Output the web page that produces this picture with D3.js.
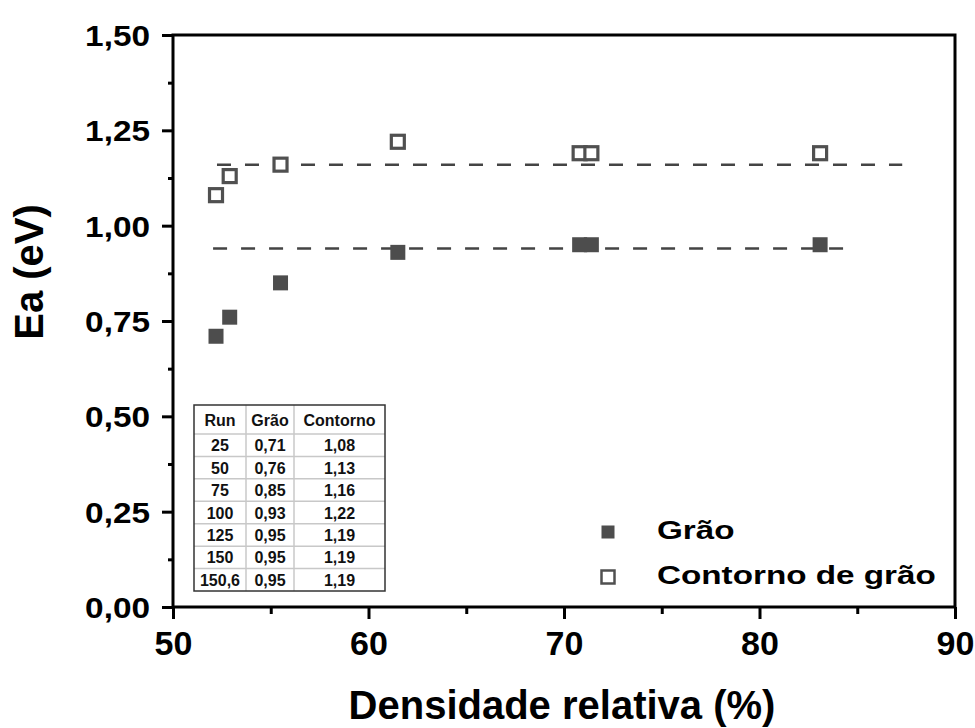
<!DOCTYPE html>
<html>
<head>
<meta charset="utf-8">
<script src="https://cdn.jsdelivr.net/npm/d3@7"></script>
<style>
  html, body { margin: 0; padding: 0; background: #fff; }
  svg { display: block; font-family: "Liberation Sans", Arial, Helvetica, sans-serif; font-weight: bold; }
</style>
</head>
<body>
<svg id="chart" width="975" height="728"></svg>
<script>
// Relative density (%) of each sample
const densidade = [52.2, 52.9, 55.5, 61.5, 70.8, 71.4, 83.1];
// Activation energy (eV): grain and grain boundary
const eaGrao = [0.71, 0.76, 0.85, 0.93, 0.95, 0.95, 0.95];
const eaContorno = [1.08, 1.13, 1.16, 1.22, 1.19, 1.19, 1.19];
// Run labels shown in the inset table
const runs = ["25", "50", "75", "100", "125", "150", "150,6"];
const tableHeader = ["Run", "Grão", "Contorno"];
// Plateau levels (dashed guides): level, start, end (density %)
const plateauLevel = [0.94, 1.16];
const plateauStart = [52.05, 52.25];
const plateauEnd = [84.8, 87.3];
// Axis ticks
const xTicks = [50, 60, 70, 80, 90];
const xMinor = [55, 65, 75, 85];
const yTicks = [0, 0.25, 0.5, 0.75, 1.0, 1.25, 1.5];
const yMinor = [0.125, 0.375, 0.625, 0.875, 1.125, 1.375];
const seriesNames = ["Grão", "Contorno de grão"];

const svg = d3.select("#chart");
const x = d3.scaleLinear().domain([50, 90]).range([173, 955]);
const y = d3.scaleLinear().domain([0, 1.5]).range([607, 35]);
const fmt = v => d3.format(".2f")(v).replace(".", ",");

const markFill = "#4d4d4d";
const markStroke = "#505050";

// Bottom axis: major and minor ticks
const gx = svg.append("g").attr("transform", `translate(0,${y(0)})`)
  .call(d3.axisBottom(x).tickValues(xTicks).tickSize(12).tickFormat(d3.format("d")));
gx.select(".domain").remove();
gx.selectAll(".tick line").attr("stroke", "#000").attr("stroke-width", 3);
gx.selectAll(".tick text").attr("y", 48).attr("dy", null)
  .attr("font-size", 34).attr("fill", "#000");
svg.append("g").attr("transform", `translate(0,${y(0)})`)
  .call(d3.axisBottom(x).tickValues(xMinor).tickSize(7).tickFormat(""))
  .call(g => g.select(".domain").remove())
  .selectAll(".tick line").attr("stroke", "#000").attr("stroke-width", 3);

// Left axis: major and minor ticks
const gy = svg.append("g").attr("transform", `translate(${x(50)},0)`)
  .call(d3.axisLeft(y).tickValues(yTicks).tickSize(11).tickFormat(fmt));
gy.select(".domain").remove();
gy.selectAll(".tick line").attr("stroke", "#000").attr("stroke-width", 3);
gy.selectAll(".tick text").attr("x", null).attr("dy", "0.36em")
  .attr("transform", "translate(-23,0) scale(1.15,1)")
  .attr("font-size", 29).attr("fill", "#000");
svg.append("g").attr("transform", `translate(${x(50)},0)`)
  .call(d3.axisLeft(y).tickValues(yMinor).tickSize(5).tickFormat(""))
  .call(g => g.select(".domain").remove())
  .selectAll(".tick line").attr("stroke", "#000").attr("stroke-width", 3);

// Frame
svg.append("rect")
  .attr("x", x(50)).attr("y", y(1.5))
  .attr("width", x(90) - x(50)).attr("height", y(0) - y(1.5))
  .attr("fill", "none").attr("stroke", "#000").attr("stroke-width", 3);

// Axis titles
svg.append("text").attr("x", 562).attr("y", 719).attr("text-anchor", "middle")
  .attr("font-size", 40).attr("fill", "#000").text("Densidade relativa (%)");
svg.append("text").attr("transform", "translate(43,272) rotate(-90)")
  .attr("text-anchor", "middle").attr("font-size", 40).attr("fill", "#000").text("Ea (eV)");

// Dashed plateau guides
svg.append("g").selectAll("line").data(plateauLevel).join("line")
  .attr("x1", (d, i) => x(plateauStart[i])).attr("x2", (d, i) => x(plateauEnd[i]))
  .attr("y1", d => y(d)).attr("y2", d => y(d))
  .attr("stroke", "#444").attr("stroke-width", 2.5).attr("stroke-dasharray", "14,14");

// Grain boundary: hollow squares
const sOpen = 13;
svg.append("g").selectAll("rect").data(eaContorno).join("rect")
  .attr("x", (d, i) => x(densidade[i]) - sOpen / 2).attr("y", d => y(d) - sOpen / 2)
  .attr("width", sOpen).attr("height", sOpen)
  .attr("fill", "#fff").attr("stroke", markStroke).attr("stroke-width", 3.2);

// Grain: filled squares
const sFill = 15;
svg.append("g").selectAll("rect").data(eaGrao).join("rect")
  .attr("x", (d, i) => x(densidade[i]) - sFill / 2).attr("y", d => y(d) - sFill / 2)
  .attr("width", sFill).attr("height", sFill).attr("fill", markFill);

// Legend
const legend = svg.append("g");
const legendY = [532, 577];
legend.selectAll("rect").data(seriesNames).join("rect")
  .attr("x", 608 - 6.5).attr("y", (d, i) => legendY[i] - 6.5)
  .attr("width", 13).attr("height", 13)
  .attr("fill", (d, i) => i === 0 ? markFill : "#fff")
  .attr("stroke", (d, i) => i === 0 ? "none" : markStroke)
  .attr("stroke-width", (d, i) => i === 0 ? 0 : 2.5);
legend.selectAll("text").data(seriesNames).join("text")
  .attr("transform", (d, i) => `translate(657,${legendY[i] + 7}) scale(1.33,1)`)
  .attr("font-size", 25).attr("fill", "#000").text(d => d);

// Inset table
const colEdges = [194, 246, 294, 385];
const tblTop = 405, tblBottom = 591, headH = 29;
const rowH = (tblBottom - tblTop - headH) / runs.length;
const rowEdges = [tblTop].concat(d3.range(runs.length + 1).map(i => tblTop + headH + i * rowH));
const table = svg.append("g");
table.append("rect").attr("x", colEdges[0]).attr("y", tblTop)
  .attr("width", colEdges[3] - colEdges[0]).attr("height", tblBottom - tblTop)
  .attr("fill", "#fff");
table.selectAll("line.h").data(rowEdges.slice(1, -1)).join("line").attr("class", "h")
  .attr("x1", colEdges[0]).attr("x2", colEdges[3]).attr("y1", d => d).attr("y2", d => d)
  .attr("stroke", "#c8c8c8").attr("stroke-width", 1.5);
table.selectAll("line.v").data(colEdges.slice(1, -1)).join("line").attr("class", "v")
  .attr("x1", d => d).attr("x2", d => d).attr("y1", tblTop).attr("y2", tblBottom)
  .attr("stroke", "#c8c8c8").attr("stroke-width", 1.5);
table.append("rect").attr("x", colEdges[0]).attr("y", tblTop)
  .attr("width", colEdges[3] - colEdges[0]).attr("height", tblBottom - tblTop)
  .attr("fill", "none").attr("stroke", "#333").attr("stroke-width", 1.5);
const colMid = i => (colEdges[i] + colEdges[i + 1]) / 2;
const rows = [tableHeader].concat(runs.map((r, i) => [r, fmt(eaGrao[i]), fmt(eaContorno[i])]));
rows.forEach((row, ri) => {
  const cy = (rowEdges[ri] + rowEdges[ri + 1]) / 2;
  row.forEach((cell, ci) => {
    table.append("text").attr("x", colMid(ci)).attr("y", cy + 6)
      .attr("text-anchor", "middle").attr("font-size", 16).attr("fill", "#111").text(cell);
  });
});
</script>
</body>
</html>
